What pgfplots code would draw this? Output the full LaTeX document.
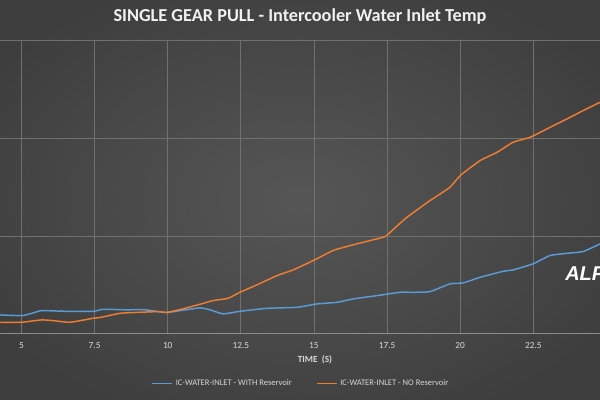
\documentclass[border=0pt]{standalone}
\usepackage{pgfplots}
\pgfplotsset{compat=1.18}
\usepackage{fontspec}
\setmainfont{Carlito}
\setsansfont{Liberation Sans}
\definecolor{bgin}{RGB}{86,86,86}
\definecolor{bgout}{RGB}{62,62,62}
\definecolor{gridc}{RGB}{112,112,112}
\definecolor{axisc}{RGB}{140,140,140}
\definecolor{txt}{RGB}{215,215,215}
\definecolor{blueline}{RGB}{91,155,213}
\definecolor{orangeline}{RGB}{237,125,49}
\begin{document}
\begin{tikzpicture}[x=0.75pt,y=0.75pt]
\useasboundingbox (0,0) rectangle (600,400);
\shade[inner color=bgin, outer color=bgout] (-60,-40) rectangle (660,440);
\begin{axis}[
  at={(0,368)}, anchor=north west,
  width=450pt, height=219.75pt, scale only axis,
  xmin=4.265, xmax=24.78, ymin=0, ymax=30,
  xtick={5,7.5,10,12.5,15,17.5,20,22.5},
  xticklabels={5,7.5,10,12.5,15,17.5,20,22.5},
  ytick={0,10,20,30}, yticklabels={},
  xmajorgrids, ymajorgrids,
  grid style={color=gridc, line width=0.6pt},
  axis line style={draw=none},
  major tick length=0pt,
  extra y ticks={0}, extra y tick labels={},
  extra y tick style={grid style={color=axisc, line width=0.8pt}},
  xticklabel style={font=\fontsize{7}{8}\selectfont, text=txt, yshift=-3pt},
  xlabel={TIME\ \ (S)},
  xlabel style={font=\bfseries\fontsize{7}{8}\selectfont, text=txt, at={(axis description cs:0.525,0)}, anchor=north, yshift=-13pt},
  legend columns=2,
  legend style={at={(axis description cs:0.502,-0.1706)}, anchor=center, draw=none, fill=none,
    font=\fontsize{6.4}{8}\selectfont, /tikz/every even column/.append style={column sep=16pt}},
  legend cell align=left,
]
\addlegendimage{legend image code/.code={\draw[draw=blueline, line width=1.3pt] (0pt,0pt) -- (15pt,0pt);}}
\addlegendentry{\textcolor{txt}{IC-WATER-INLET - WITH Reservoir}}
\addlegendimage{legend image code/.code={\draw[draw=orangeline, line width=1.3pt] (0pt,0pt) -- (15pt,0pt);}}
\addlegendentry{\textcolor{txt}{IC-WATER-INLET - NO Reservoir}}
\addplot[color=blueline, line width=1.1pt, smooth, tension=0.3, forget plot] coordinates {
(4.265,1.91) (5.007,1.84) (5.36,2.08) (5.69,2.35) (6.55,2.28) (7.46,2.28) (7.79,2.49)
(8.61,2.43) (9.16,2.46) (9.84,2.18) (9.98,2.15) (10.42,2.35) (11.10,2.63) (11.45,2.43)
(11.89,2.02) (12.47,2.28) (13.40,2.59) (14.42,2.69) (15.11,3.04) (15.79,3.20) (16.34,3.55)
(17.16,3.89) (17.95,4.23) (18.39,4.23) (18.97,4.30) (19.65,5.09) (20.10,5.19) (20.68,5.76)
(21.47,6.38) (21.81,6.52) (22.49,7.14) (23.07,7.99) (23.65,8.22) (24.20,8.40) (24.78,9.18)
};
\addplot[color=orangeline, line width=1.1pt, smooth, tension=0.3, forget plot] coordinates {
(4.265,1.16) (5.007,1.16) (5.29,1.26) (5.69,1.40) (6.08,1.33) (6.66,1.16) (7.45,1.57)
(7.68,1.64) (8.37,2.08) (9.05,2.18) (9.63,2.25) (9.98,2.18) (10.42,2.46) (11.10,3.00)
(11.55,3.38) (12.06,3.61) (12.47,4.23) (13.05,4.99) (13.74,5.94) (14.29,6.52) (14.97,7.47)
(15.65,8.50) (16.24,9.01) (16.82,9.45) (17.43,9.93) (17.67,10.55) (18.18,11.91) (18.97,13.62)
(19.65,14.98) (20.00,16.18) (20.68,17.71) (21.26,18.56) (21.81,19.59) (22.39,20.10)
(22.97,20.96) (23.65,21.98) (24.20,22.83) (24.78,23.68)
};
\end{axis}
\node[anchor=center, text=white!94!black, font=\bfseries\fontsize{13.7}{15}\selectfont] at (300,383) {SINGLE GEAR PULL - Intercooler Water Inlet Temp};
\node[anchor=west, inner sep=0pt, text=white, font=\sffamily\bfseries\itshape\fontsize{15}{17}\selectfont] at (565,126) {ALP};
\end{tikzpicture}
\end{document}
